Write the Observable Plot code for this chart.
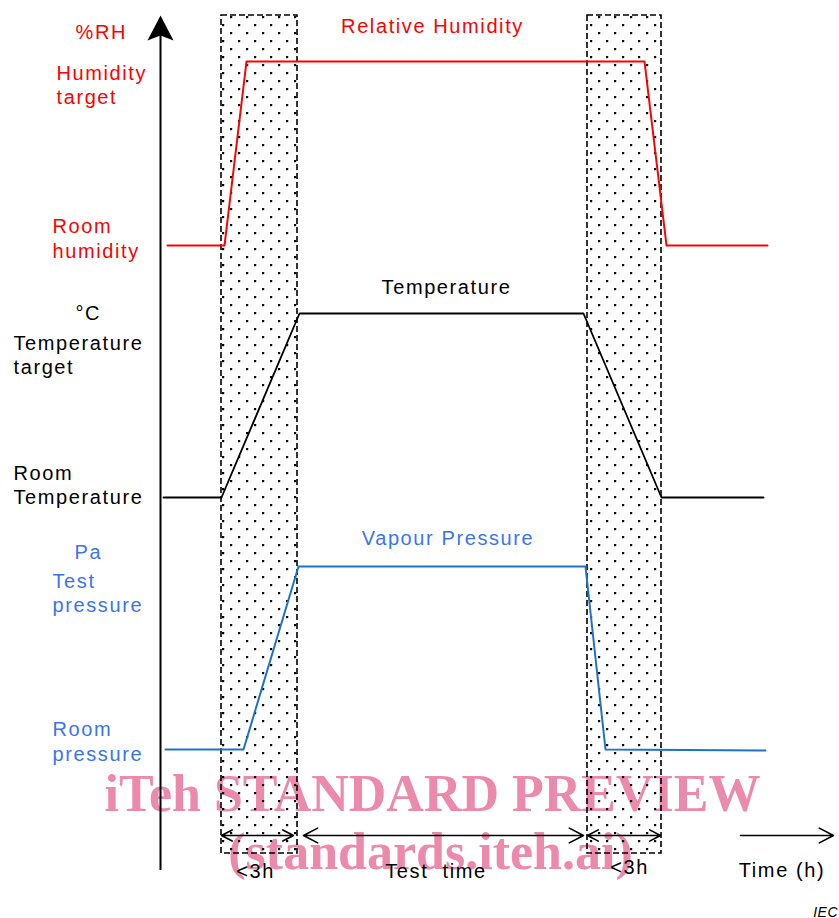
<!DOCTYPE html>
<html><head><meta charset="utf-8">
<script src="https://cdn.jsdelivr.net/npm/d3@7"></script>
<script src="https://cdn.jsdelivr.net/npm/@observablehq/plot@0.6"></script>
<style>html,body{margin:0;background:#fff}#chart svg{display:block}</style>
</head><body><div id="chart"></div>
<script>
// Time in hours (origin at the vertical axis); level in schematic chart units.
const bandStart = [2.44, 17.08];
const bandEnd = [5.48, 20.04];

const rhTime = [0.28, 2.56, 3.44, 19.36, 20.24, 24.28];
const rhLevel = [673, 673, 857, 857, 673, 673];

const tempTime = [0.12, 2.44, 5.56, 16.92, 20.04, 24.12];
const tempLevel = [421, 421, 605, 605, 421, 421];

const vapTime = [0.2, 3.32, 5.52, 17.0, 17.8, 24.2];
const vapLevel = [169, 169, 352, 352, 169, 168];

const spanLabels = ["<3h", "Test\u00a0\u00a0time", "<3h"];
const spanStart = [2.44, 5.72, 17.08];
const spanEnd = [5.32, 16.92, 20.0];
const spanLabelTime = [3.8, 11.02, 18.76];
const spanLabelLevel = [41, 41, 45];

const seriesTitles = ["Relative Humidity", "Temperature", "Vapour Pressure"];
const titleTime = [10.88, 11.44, 11.5];
const titleLevel = [886, 625, 374];

const axisLabels = ["%RH", "Humidity", "target", "Room", "humidity",
  "\u00b0C", "Temperature", "target", "Room", "Temperature",
  "Pa", "Test", "pressure", "Room", "pressure"];
const axisLabelTime = [-3.4, -4.16, -4.16, -4.32, -4.32,
  -3.4, -5.88, -5.88, -5.88, -5.88,
  -3.44, -4.32, -4.32, -4.32, -4.32];
const axisLabelLevel = [880, 839, 815, 686, 661,
  599, 569, 545, 439, 415,
  360, 331, 307, 183, 158];

const RED = "#ff0000", BLACK = "#000000", LINEBLUE = "#1f72c4", TEXTBLUE = "#3b74ee";
const axisLabelColor = [RED, RED, RED, RED, RED,
  BLACK, BLACK, BLACK, BLACK, BLACK,
  TEXTBLUE, TEXTBLUE, TEXTBLUE, TEXTBLUE, TEXTBLUE];
const titleColor = [RED, BLACK, TEXTBLUE];

const watermark = ["iTeh STANDARD PREVIEW", "(standards.iteh.ai)"];
const watermarkTime = [10.88, 10.8];
const watermarkLevel = [108, 50];

// build tables
const pts = (ts, vs) => ts.map((t, i) => ({t, v: vs[i]}));
const bands = bandStart.map((t1, i) => ({t1, t2: bandEnd[i]}));
const spans = spanLabels.map((label, i) => ({label, t1: spanStart[i], t2: spanEnd[i], mid: (spanStart[i] + spanEnd[i]) / 2, lt: spanLabelTime[i], lv: spanLabelLevel[i]}));
const titles = seriesTitles.map((label, i) => ({label, t: titleTime[i], v: titleLevel[i], color: titleColor[i]}));
const labels = axisLabels.map((label, i) => ({label, t: axisLabelTime[i], v: axisLabelLevel[i], color: axisLabelColor[i]}));
const wm = watermark.map((label, i) => ({label, t: watermarkTime[i], v: watermarkLevel[i]}));

const SANS = "Liberation Sans, Arial, sans-serif";
const arrowHead = {
  draw(ctx) {
    ctx.moveTo(0, -12);
    ctx.lineTo(13, 13);
    ctx.lineTo(0, 8);
    ctx.lineTo(-13, 13);
    ctx.closePath();
  }
};
const arrowLevel = 83;

const chart = Plot.plot({
  width: 839,
  height: 918,
  margin: 0,
  x: {domain: [-6.4, 27.16], axis: null},
  y: {domain: [0, 918], axis: null},
  color: {type: "identity"},
  marks: [
    Plot.text(wm, {x: "t", y: "v", text: "label", lineAnchor: "bottom", textAnchor: "middle",
      fontFamily: "Liberation Serif", fontWeight: "bold", fontSize: 52, fill: "#ec8aab"}),
    Plot.rect(bands, {x1: "t1", x2: "t2", y1: 65, y2: 903, fill: "url(#dots)",
      stroke: "black", strokeWidth: 1.6, strokeDasharray: "6,3"}),
    Plot.ruleX([0], {y1: 48, y2: 890, stroke: "black", strokeWidth: 2}),
    Plot.dot([{t: 0, v: 891}], {x: "t", y: "v", symbol: arrowHead, fill: "black", stroke: "none"}),
    Plot.line(pts(rhTime, rhLevel), {x: "t", y: "v", stroke: RED, strokeWidth: 2}),
    Plot.line(pts(tempTime, tempLevel), {x: "t", y: "v", stroke: BLACK, strokeWidth: 1.8}),
    Plot.line(pts(vapTime, vapLevel), {x: "t", y: "v", stroke: LINEBLUE, strokeWidth: 2}),
    Plot.arrow(spans, {x1: "mid", x2: "t1", y1: arrowLevel, y2: arrowLevel, headLength: 15, headAngle: 55, stroke: "black", strokeWidth: 1.6}),
    Plot.arrow(spans, {x1: "mid", x2: "t2", y1: arrowLevel, y2: arrowLevel, headLength: 15, headAngle: 55, stroke: "black", strokeWidth: 1.6}),
    Plot.arrow([{t1: 23.2, t2: 26.92}], {x1: "t1", x2: "t2", y1: arrowLevel, y2: arrowLevel, headLength: 15, headAngle: 55, stroke: "black", strokeWidth: 1.6}),
    Plot.text(spans, {x: "lt", y: "lv", text: "label", lineAnchor: "bottom", textAnchor: "middle", fontFamily: SANS, fontSize: 20, fill: "black"}),
    Plot.text([{label: "Time (h)", t: 24.86, v: 42}], {x: "t", y: "v", text: "label", lineAnchor: "bottom", textAnchor: "middle", fontFamily: SANS, fontSize: 20, fill: "black"}),
    Plot.text([{label: "IEC", t: 27.1, v: 2}], {x: "t", y: "v", text: "label", lineAnchor: "bottom", textAnchor: "end", fontFamily: SANS, fontSize: 14, fontStyle: "italic", fill: "black"}),
    Plot.text(titles, {x: "t", y: "v", text: "label", fill: "color", lineAnchor: "bottom", textAnchor: "middle", fontFamily: SANS, fontSize: 20}),
    Plot.text(labels, {x: "t", y: "v", text: "label", fill: "color", lineAnchor: "bottom", textAnchor: "start", fontFamily: SANS, fontSize: 20})
  ]
});

const svg = d3.select(chart);
svg.attr("letter-spacing", "1.6px");
svg.selectAll("g[font-family='Liberation Serif']").attr("letter-spacing", "0");
svg.selectAll("g[font-size='14']").attr("letter-spacing", "0.5px");
const defs = svg.insert("defs", ":first-child");
const pat = defs.append("pattern").attr("id", "dots").attr("patternUnits", "userSpaceOnUse")
  .attr("width", 16).attr("height", 16).attr("x", 6).attr("y", 0);
pat.append("rect").attr("x", 0).attr("y", 0).attr("width", 2.2).attr("height", 2.2).attr("fill", "black");
pat.append("rect").attr("x", 8).attr("y", 8).attr("width", 2.2).attr("height", 2.2).attr("fill", "black");
document.getElementById("chart").appendChild(chart);
</script>
</body></html>
